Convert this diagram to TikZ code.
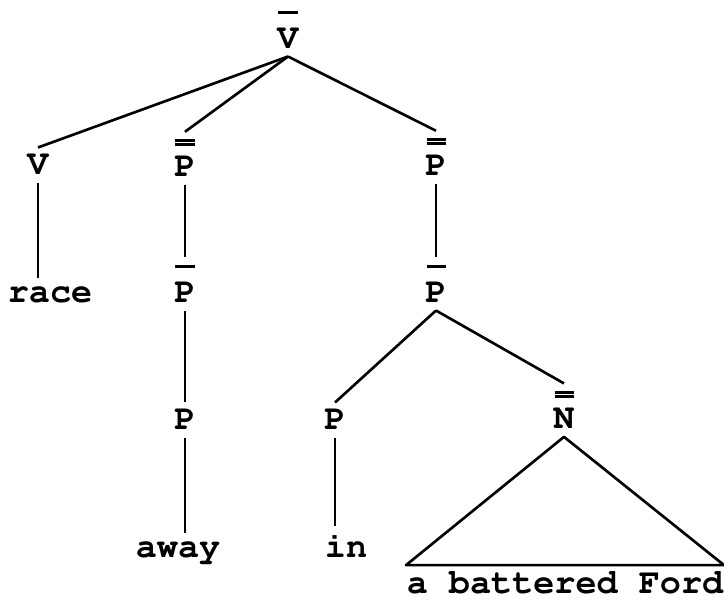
\documentclass[tikz,border=0pt]{standalone}
\usepackage[T1]{fontenc}
\usepackage{courier}
\newcommand{\barone}{\rule{0.19cm}{0.028cm}}
\newcommand{\bartwo}{\vbox{\hrule width 0.19cm height 0.026cm \kern 0.014cm \hrule width 0.19cm height 0.026cm}}
\tikzset{
    cat/.style = {font=\ttfamily\bfseries\fontsize{10}{12}\selectfont, inner sep=0.07cm},
    leaf/.style = {font=\ttfamily\bfseries\fontsize{10}{12}\selectfont, anchor=base, inner sep=0.07cm},
    barmark/.style = {inner sep=0.07cm},
    onebar/.style = {label={[barmark,name=#1,yshift=0cm]above:\barone}},
    twobar/.style = {label={[barmark,name=#1,yshift=-0.043cm]above:\bartwo}},
    branch/.style = {draw, line width=0.75pt, line join=round}
}
\begin{document}
\begin{tikzpicture}[x=0.01cm, y=-0.01cm]
                \useasboundingbox (0,0) rectangle (724,600);
                \node[cat,onebar=vbartop] (vbar) at (288,39) {V};
                \node[cat] (verb) at (38,165) {V};
                \node[cat,twobar=ppAtop] (ppA) at (185,167) {P};
                \node[cat,twobar=ppBtop] (ppB) at (436,166) {P};
                \node[cat,onebar=pbarAtop] (pbarA) at (185,293) {P};
                \node[cat,onebar=pbarBtop] (pbarB) at (436,293) {P};
                \node[cat] (pA) at (185,420) {P};
                \node[cat] (pB) at (335,420) {P};
                \node[cat,twobar=nbartop] (nbar) at (564,419) {N};
                \node[leaf] (race) at (50,302) {race};
                \node[leaf] (away) at (178,557) {away};
                \node[leaf] (in) at (346,557) {in};
                \node[leaf,inner xsep=0pt,inner ysep=0.05cm] (ford) at (565,593) {a battered Ford};
                \draw[branch] (vbar.south) -- (verb.north);
                \draw[branch] (vbar.south) -- (ppAtop.north);
                \draw[branch] (vbar.south) -- (ppBtop.north);
                \draw[branch] (verb.south) -- (verb.south |- race.north);
                \draw[branch] (ppA.south) -- (pbarAtop.north);
                \draw[branch] (pbarA.south) -- (pA.north);
                \draw[branch] (pA.south) -- (pA.south |- away.north);
                \draw[branch] (ppB.south) -- (pbarBtop.north);
                \draw[branch] (pbarB.south) -- (pB.north);
                \draw[branch] (pbarB.south) -- (nbartop.north);
                \draw[branch] (pB.south) -- (pB.south |- in.north);
                \draw[branch] (nbar.south) -- (ford.north west) -- (ford.north east) -- cycle;
            \end{tikzpicture}
\end{document}
